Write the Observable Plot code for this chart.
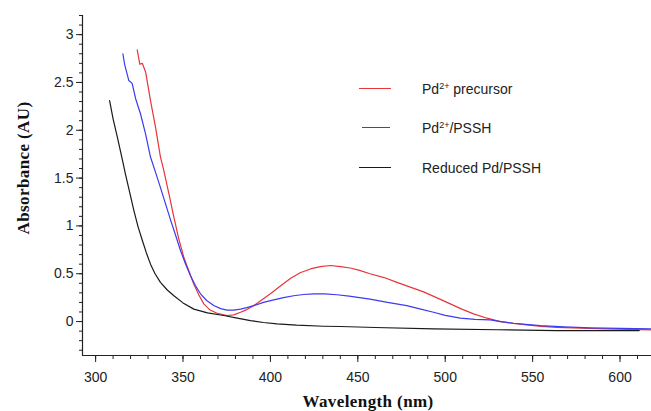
<!DOCTYPE html>
<html>
<head>
<meta charset="utf-8">
<script src="https://cdn.jsdelivr.net/npm/d3@7"></script>
<script src="https://cdn.jsdelivr.net/npm/@observablehq/plot@0.6"></script>
<style>
  html, body { margin: 0; padding: 0; background: #fff; }
  #wrap { position: relative; width: 651px; height: 411px; overflow: hidden; }
  #wrap svg { position: absolute; left: 0; top: 0; }
  .lbl { position: absolute; font-family: "Liberation Serif", "Times New Roman", serif; font-weight: bold; font-size: 17px; color: #111; white-space: nowrap; letter-spacing: 0.4px; }
  .leg { position: absolute; font-family: "Liberation Sans", Arial, sans-serif; font-size: 14px; color: #222; white-space: nowrap; }
  .leg sup { font-size: 9px; vertical-align: 0; position: relative; top: -5px; }
  .sw { position: absolute; height: 0; border-top: 1.3px solid; }
</style>
</head>
<body>
<div id="wrap"></div>
<script>
// ---- data ----
const seriesNames = ["Pd2+ precursor", "Pd2+/PSSH", "Reduced Pd/PSSH"];

const redWl  = [323.8, 325.3, 326.7, 328.6, 331.4, 334.3, 337.1, 339, 342, 344.8, 347.5, 350.5, 353.5, 356.2, 359, 361.9, 365.5, 369.5, 375.2, 379, 382.9, 386.5, 390.5, 395, 400, 405.5, 411.4, 417, 422.9, 428.5, 434.3, 440, 445.7, 451, 457, 465, 472.4, 480, 487.6, 495, 502.9, 509.5, 516.2, 524, 531.4, 539, 546.7, 555, 563.8, 578, 592.4, 605, 617.7];
const redAbs = [2.84, 2.69, 2.70, 2.61, 2.31, 2.03, 1.72, 1.58, 1.33, 1.09, 0.87, 0.67, 0.52, 0.39, 0.28, 0.185, 0.12, 0.087, 0.063, 0.07, 0.097, 0.125, 0.167, 0.225, 0.29, 0.37, 0.45, 0.51, 0.55, 0.575, 0.586, 0.575, 0.56, 0.535, 0.50, 0.46, 0.41, 0.36, 0.31, 0.25, 0.185, 0.13, 0.08, 0.035, 0.0, -0.02, -0.035, -0.05, -0.06, -0.07, -0.077, -0.082, -0.087];

const blueWl  = [315.6, 316.6, 319, 320.9, 322.9, 325.7, 328.6, 331.4, 334.3, 337.1, 340, 342.9, 345.8, 348.6, 351.5, 354.3, 357, 360, 363.5, 367.6, 371.5, 375.2, 379, 382.9, 386.5, 390.5, 396, 401.9, 407.5, 413.3, 419, 424.8, 431, 438.1, 445, 451, 457, 467, 478, 486, 493.3, 500, 508.6, 517, 525.7, 532, 539, 546, 554.3, 568, 582.9, 600, 617.7];
const blueAbs = [2.80, 2.69, 2.52, 2.49, 2.33, 2.17, 1.96, 1.72, 1.56, 1.40, 1.23, 1.06, 0.90, 0.74, 0.60, 0.48, 0.38, 0.29, 0.22, 0.167, 0.135, 0.12, 0.12, 0.13, 0.145, 0.167, 0.2, 0.227, 0.25, 0.27, 0.283, 0.29, 0.29, 0.28, 0.265, 0.25, 0.235, 0.2, 0.167, 0.13, 0.097, 0.065, 0.035, 0.022, 0.017, 0.0, -0.018, -0.03, -0.042, -0.055, -0.066, -0.072, -0.077];

const blackWl  = [308, 310, 312.4, 315.2, 317.1, 319.5, 321.9, 324.3, 326.7, 329, 331.4, 334, 337.1, 341, 344.8, 350, 356.2, 364, 373.3, 381, 388.6, 396, 403.8, 415, 430.5, 440, 460, 493.3, 530, 563.8, 590, 611];
const blackAbs = [2.31, 2.12, 1.93, 1.70, 1.54, 1.35, 1.16, 0.99, 0.85, 0.72, 0.60, 0.50, 0.41, 0.33, 0.27, 0.195, 0.13, 0.09, 0.063, 0.035, 0.01, -0.01, -0.024, -0.038, -0.049, -0.052, -0.062, -0.077, -0.086, -0.094, -0.094, -0.094];

const xMajorTicks = [300, 350, 400, 450, 500, 550, 600];
const yMajorTicks = [0, 0.5, 1, 1.5, 2, 2.5, 3];
const yTickLabels = ["0", "0.5", "1", "1.5", "2", "2.5", "3"];
const colors = ["#e8353a", "#3b3bef", "#1a1a1a"];

// ---- build table ----
const toRows = (wl, ab, s) => wl.map((w, i) => ({wl: w, abs: ab[i], series: s}));
const rows = [
  ...toRows(redWl, redAbs, seriesNames[0]),
  ...toRows(blueWl, blueAbs, seriesNames[1]),
  ...toRows(blackWl, blackAbs, seriesNames[2])
];

const xDomain = [292.5, 618];
const yDomain = [-0.355, 3.2];
const xMinor = d3.range(300, 618, 10);
const yMinor = d3.range(-3, 33, 1).map(d => d / 10);

const chart = Plot.plot({
  width: 651,
  height: 411,
  marginLeft: 82,
  marginRight: 0,
  marginTop: 15,
  marginBottom: 56,
  style: {fontFamily: '"Liberation Sans", Arial, sans-serif', fontSize: "14px", color: "#222", background: "transparent"},
  x: {domain: xDomain},
  y: {domain: yDomain},
  color: {domain: seriesNames, range: colors},
  marks: [
    Plot.axisX(xMinor, {tickSize: 4, text: null, label: null, stroke: "#222"}),
    Plot.axisX(xMajorTicks, {tickSize: 7, tickPadding: 10, label: null, stroke: "#222", fill: "#222", fontSize: 14}),
    Plot.axisY(yMinor, {tickSize: 3, text: null, label: null, stroke: "#222"}),
    Plot.axisY(yMajorTicks, {tickSize: 6, tickPadding: 3, label: null, tickFormat: (d, i) => yTickLabels[i], stroke: "#222", fill: "#222", fontSize: 14}),
    Plot.ruleX([xDomain[0]], {stroke: "#222", strokeWidth: 1.2}),
    Plot.ruleY([yDomain[0]], {stroke: "#222", strokeWidth: 1.2}),
    Plot.line(rows, {x: "wl", y: "abs", z: "series", stroke: "series", strokeWidth: 1.2})
  ]
});

const wrap = document.getElementById("wrap");
wrap.appendChild(chart);

// axis titles
const yl = document.createElement("div");
yl.className = "lbl";
yl.textContent = "Absorbance (AU)";
wrap.appendChild(yl);
const ylw = yl.offsetWidth, ylh = yl.offsetHeight;
yl.style.left = (23 - ylw / 2) + "px";
yl.style.top = (168 - ylh / 2) + "px";
yl.style.transform = "rotate(-90deg)";

const xl = document.createElement("div");
xl.className = "lbl";
xl.textContent = "Wavelength (nm)";
wrap.appendChild(xl);
xl.style.left = (368 - xl.offsetWidth / 2) + "px";
xl.style.top = (402 - xl.offsetHeight / 2) + "px";

// legend
const legendHtml = ["Pd<sup>2+</sup> precursor", "Pd<sup>2+</sup>/PSSH", "Reduced Pd/PSSH"];
const legendY = [88, 127, 167];
legendHtml.forEach((h, i) => {
  const sw = document.createElement("div");
  sw.className = "sw";
  sw.style.borderTopColor = colors[i];
  sw.style.left = (i === 1 ? 362 : 359) + "px";
  sw.style.width = (i === 1 ? 28 : 32) + "px";
  sw.style.top = legendY[i] + "px";
  wrap.appendChild(sw);
  const t = document.createElement("div");
  t.className = "leg";
  t.innerHTML = h;
  wrap.appendChild(t);
  t.style.left = "422px";
  t.style.top = (legendY[i] - t.offsetHeight / 2 + 1) + "px";
});
</script>
</body>
</html>
